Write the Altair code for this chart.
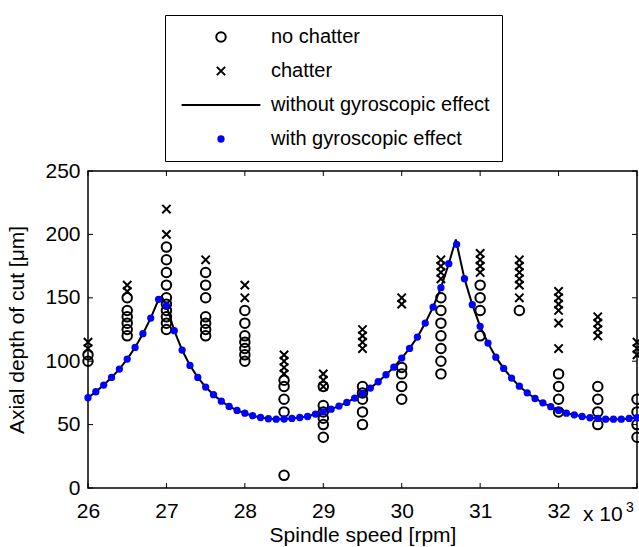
import altair as alt
import pandas as pd

# ---------------- data (speeds in 10^3 rpm, depths in micrometres) ----------------
test_speeds = [26, 26.5, 27, 27.5, 28, 28.5, 29, 29.5, 30, 30.5, 31, 31.5, 32, 32.5, 33]

no_chatter_depths = [
    [100, 105],
    [120, 125, 130, 135, 140, 150],
    [125, 130, 135, 140, 145, 150, 160, 170, 180, 190],
    [120, 125, 130, 135, 150, 160, 170],
    [100, 105, 110, 115, 120, 130, 140],
    [10, 60, 70, 80, 85],
    [40, 50, 55, 60, 65, 80],
    [50, 60, 70, 75, 80],
    [70, 80, 90, 95],
    [90, 100, 110, 120, 130, 140, 150],
    [120, 140, 150, 160],
    [140],
    [60, 70, 80, 90],
    [50, 60, 70, 80],
    [40, 50, 60, 70],
]

chatter_depths = [
    [110, 115],
    [155, 160],
    [200, 220],
    [180],
    [150, 160],
    [90, 95, 100, 105],
    [80, 85, 90],
    [110, 115, 120, 125],
    [145, 150],
    [165, 170, 175, 180],
    [170, 175, 180, 185],
    [150, 160, 165, 170, 175, 180],
    [110, 130, 140, 145, 150, 155],
    [120, 125, 130, 135],
    [105, 110, 115],
]

gyro_speed = [26.0, 26.1, 26.2, 26.3, 26.4, 26.5, 26.6, 26.7, 26.8, 26.9,
              27.0, 27.1, 27.2, 27.3, 27.4, 27.5, 27.6, 27.7, 27.8, 27.9,
              28.0, 28.1, 28.2, 28.3, 28.4, 28.5, 28.6, 28.7, 28.8, 28.9,
              29.0, 29.1, 29.2, 29.3, 29.4, 29.5, 29.6, 29.7, 29.8, 29.9,
              30.0, 30.1, 30.2, 30.3, 30.4, 30.5, 30.6, 30.7, 30.8, 30.9,
              31.0, 31.1, 31.2, 31.3, 31.4, 31.5, 31.6, 31.7, 31.8, 31.9,
              32.0, 32.1, 32.2, 32.3, 32.4, 32.5, 32.6, 32.7, 32.8, 32.9, 33.0]
gyro_depth = [71.2, 75.9, 81.2, 87.2, 93.8, 101.7, 110.9, 121.7, 134.0, 148.8,
              143.8, 124.1, 108.8, 96.7, 87.2, 79.6, 73.6, 68.5, 64.3, 61.2,
              59.0, 57.0, 55.6, 54.6, 54.3, 54.4, 54.9, 55.6, 56.4, 58.3,
              60.1, 62.2, 64.6, 67.5, 70.9, 74.6, 78.8, 83.8, 89.3, 95.3,
              102.5, 110.1, 119.0, 130.1, 142.7, 158.0, 176.9, 192.2, 165.1, 144.6,
              127.5, 114.3, 103.2, 94.3, 86.7, 80.3, 75.1, 70.6, 67.2, 64.1,
              61.2, 59.0, 57.7, 56.4, 55.4, 54.9, 54.3, 54.3, 54.3, 54.9, 55.4]

nogyro_speed = [26.0, 26.1, 26.2, 26.3, 26.4, 26.5, 26.6, 26.7, 26.8, 26.9, 26.94,
                27.0, 27.1, 27.2, 27.3, 27.4, 27.5, 27.6, 27.7, 27.8, 27.9,
                28.0, 28.1, 28.2, 28.3, 28.4, 28.5, 28.6, 28.7, 28.8, 28.9,
                29.0, 29.1, 29.2, 29.3, 29.4, 29.5, 29.6, 29.7, 29.8, 29.9,
                30.0, 30.1, 30.2, 30.3, 30.4, 30.5, 30.6, 30.69, 30.8, 30.9,
                31.0, 31.1, 31.2, 31.3, 31.4, 31.5, 31.6, 31.7, 31.8, 31.9,
                32.0, 32.1, 32.2, 32.3, 32.4, 32.5, 32.6, 32.7, 32.8, 32.9, 33.0]
nogyro_depth = [71.2, 75.9, 81.2, 87.2, 93.8, 101.7, 110.9, 121.7, 134.0, 148.8, 151.0,
                143.8, 124.1, 108.8, 96.7, 87.2, 79.6, 73.6, 68.5, 64.3, 61.2,
                59.0, 57.0, 55.6, 54.6, 54.3, 54.4, 54.9, 55.6, 56.4, 58.3,
                60.1, 62.2, 64.6, 67.5, 70.9, 74.6, 78.8, 83.8, 89.3, 95.3,
                102.5, 110.1, 119.0, 130.1, 142.7, 158.0, 176.9, 196.0, 165.1, 144.6,
                127.5, 114.3, 103.2, 94.3, 86.7, 80.3, 75.1, 70.6, 67.2, 64.1,
                61.2, 59.0, 57.7, 56.4, 55.4, 54.9, 54.3, 54.3, 54.3, 54.9, 55.4]

x_tick_values = [26, 27, 28, 29, 30, 31, 32, 33]
x_label_values = [26, 27, 28, 29, 30, 31, 32]
y_tick_values = [0, 50, 100, 150, 200, 250]

series_labels = ["no chatter", "chatter", "without gyroscopic effect", "with gyroscopic effect"]

# ---------------- tables ----------------
rows = []
for s, ds in zip(test_speeds, no_chatter_depths):
    for d in ds:
        rows.append({"speed": s, "depth": d, "series": series_labels[0]})
for s, ds in zip(test_speeds, chatter_depths):
    for d in ds:
        rows.append({"speed": s, "depth": d, "series": series_labels[1]})
for s, d in zip(gyro_speed, gyro_depth):
    rows.append({"speed": s, "depth": d, "series": series_labels[3]})
points_df = pd.DataFrame(rows)
line_df = pd.DataFrame({"speed": nogyro_speed, "depth": nogyro_depth})
xt_df = pd.DataFrame({"speed": x_tick_values})
yt_df = pd.DataFrame({"depth": y_tick_values})

FONT = "Liberation Sans"
W, H = 549, 317
TL = 5
CROSS = "M-1,-1L1,1M-1,1L1,-1"
LINE = "M-11.3,0L11.3,0"

xscale = alt.Scale(domain=[26, 33], nice=False, zero=False)
yscale = alt.Scale(domain=[0, 250], nice=False, zero=True)

xaxis = alt.Axis(values=x_label_values, format="d", ticks=False, domain=False, grid=False,
                 labelFlush=False, labelPadding=12, title="Spindle speed [rpm]",
                 titleFontWeight="normal", titlePadding=3)
yaxis = alt.Axis(values=y_tick_values, ticks=False, domain=False, grid=False,
                 labelPadding=8, title="Axial depth of cut [μm]",
                 titleFontWeight="normal", titlePadding=17)

X = alt.X("speed:Q", scale=xscale, axis=xaxis)
Y = alt.Y("depth:Q", scale=yscale, axis=yaxis)

line = alt.Chart(line_df).mark_line(color="black", strokeWidth=2).encode(x=X, y=Y)

leg = alt.Legend(title=None)
points = alt.Chart(points_df).mark_point(strokeWidth=2, opacity=1).encode(
    x=X, y=Y,
    shape=alt.Shape("series:N", scale=alt.Scale(domain=series_labels,
                    range=["circle", CROSS, LINE, "circle"]), legend=leg),
    fill=alt.Fill("series:N", scale=alt.Scale(domain=series_labels,
                  range=["transparent", "transparent", "transparent", "#0000ff"]), legend=leg),
    stroke=alt.Stroke("series:N", scale=alt.Scale(domain=series_labels,
                      range=["black", "black", "black", "#0000ff"]), legend=leg),
    size=alt.Size("series:N", scale=alt.Scale(domain=series_labels,
                  range=[90, 28, 64, 26]), legend=leg),
)

xt_bottom = alt.Chart(xt_df).mark_rule(color="black", strokeWidth=1).encode(
    x=X, y=alt.value(H), y2=alt.value(H - TL))
xt_top = alt.Chart(xt_df).mark_rule(color="black", strokeWidth=1).encode(
    x=X, y=alt.value(0), y2=alt.value(TL))
yt_left = alt.Chart(yt_df).mark_rule(color="black", strokeWidth=1).encode(
    y=Y, x=alt.value(0), x2=alt.value(TL))
yt_right = alt.Chart(yt_df).mark_rule(color="black", strokeWidth=1).encode(
    y=Y, x=alt.value(W), x2=alt.value(W - TL))

mult = alt.Chart(pd.DataFrame({"t": ["x 10"]})).mark_text(
    font=FONT, fontSize=21, align="left", baseline="alphabetic", color="black"
).encode(text="t:N", x=alt.value(W - 54), y=alt.value(H + 33))
expo = alt.Chart(pd.DataFrame({"t": ["3"]})).mark_text(
    font=FONT, fontSize=14, align="left", baseline="alphabetic", color="black"
).encode(text="t:N", x=alt.value(W - 11), y=alt.value(H + 24))

chart = alt.layer(
    line, points, xt_bottom, xt_top, yt_left, yt_right, mult, expo
).properties(
    width=W, height=H,
    autosize=alt.AutoSizeParams(type="none"),
    padding={"left": 88, "top": 171, "right": 2, "bottom": 59},
).configure_view(
    stroke="black", strokeWidth=1.5
).configure_axis(
    labelFont=FONT, labelFontSize=21, labelColor="black",
    titleFont=FONT, titleFontSize=21, titleColor="black",
).configure_legend(
    orient="none", legendX=77, legendY=-156,
    strokeColor="black", strokeWidth=1, fillColor="white",
    padding=12, labelFont=FONT, labelFontSize=20, labelColor="black", labelLimit=0,
    symbolStrokeWidth=2, rowPadding=14, labelOffset=40, symbolOffset=34,
)

chart.save("out.html", embed_options={"renderer": "svg", "actions": False})
